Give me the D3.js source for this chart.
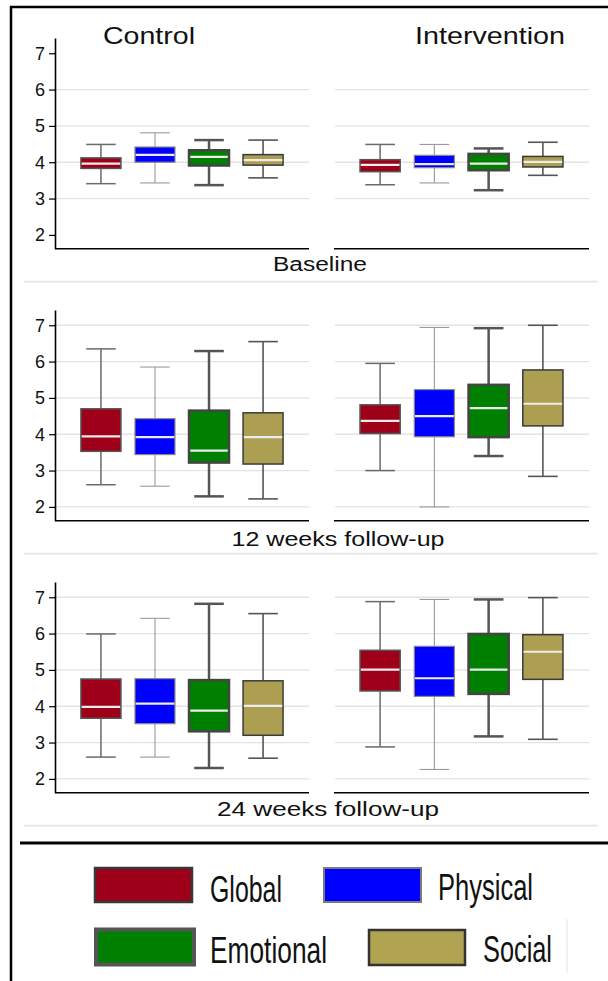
<!DOCTYPE html>
<html>
<head>
<meta charset="utf-8">
<script src="https://cdn.jsdelivr.net/npm/d3@7/dist/d3.min.js"></script>
<style>
  body { margin: 0; background: #fff; }
  text { font-family: "Liberation Sans", Arial, sans-serif; fill: #111; }
</style>
</head>
<body>
<svg id="chart" width="608" height="981"></svg>
<script>
// categories and groups
var categories = ["Global", "Physical", "Emotional", "Social"];
var groups = ["Control", "Intervention"];
var timepoints = ["Baseline", "12 weeks follow-up", "24 weeks follow-up"];
var yTicks = [2, 3, 4, 5, 6, 7];

// box values per category: [lower whisker, q1, median, q3, upper whisker]
var baselineControl = [
    [3.41, 3.83, 3.96, 4.12, 4.49],
    [3.43, 4.00, 4.20, 4.42, 4.81],
    [3.37, 3.91, 4.15, 4.33, 4.61],
    [3.57, 3.92, 4.06, 4.21, 4.61]
];
var baselineIntervention = [
    [3.38, 3.74, 3.93, 4.07, 4.49],
    [3.43, 3.85, 3.95, 4.19, 4.49],
    [3.23, 3.78, 3.96, 4.23, 4.38],
    [3.64, 3.87, 4.01, 4.16, 4.55]
];
var week12Control = [
    [2.61, 3.53, 3.94, 4.70, 6.35],
    [2.57, 3.44, 3.92, 4.43, 5.85],
    [2.29, 3.22, 3.55, 4.65, 6.29],
    [2.22, 3.18, 3.92, 4.59, 6.55]
];
var week12Intervention = [
    [3.00, 4.02, 4.37, 4.81, 5.95],
    [2.00, 3.93, 4.50, 5.23, 6.94],
    [3.40, 3.92, 4.72, 5.36, 6.92],
    [2.84, 4.23, 4.84, 5.77, 7.00]
];
var week24Control = [
    [2.60, 3.67, 3.98, 4.75, 5.99],
    [2.60, 3.52, 4.07, 4.76, 6.42],
    [2.30, 3.31, 3.88, 4.72, 6.82],
    [2.57, 3.20, 4.01, 4.70, 6.55]
];
var week24Intervention = [
    [2.88, 4.42, 5.01, 5.54, 6.88],
    [2.26, 4.27, 4.77, 5.65, 6.94],
    [3.17, 4.34, 5.01, 5.99, 6.94],
    [3.09, 4.74, 5.50, 5.97, 6.99]
];

var panelData = [
    [baselineControl, baselineIntervention],
    [week12Control, week12Intervention],
    [week24Control, week24Intervention]
];

// styles per category
var fills = ["#9e0019", "#0000ff", "#008000", "#ad9f52"];
var outline = ["#555", "#8a8a8a", "#444", "#3a3a3a"];
var outlineW = [1.5, 1.2, 2.5, 1.5];
var whiskerCol = ["#6a6a6a", "#9a9a9a", "#555", "#555"];
var whiskerW = [1.5, 1.1, 2.5, 1.6];

var svg = d3.select("#chart");

// outer frame
svg.append("line").attr("x1", 10).attr("x2", 608).attr("y1", 7).attr("y2", 7)
    .attr("stroke", "#000").attr("stroke-width", 2.5);
svg.append("line").attr("x1", 11).attr("x2", 11).attr("y1", 6).attr("y2", 981)
    .attr("stroke", "#000").attr("stroke-width", 2.5);

var rowStep = 272;
var panelRanges = [[55, 309], [334, 589]];
var labelBase = [271, 546, 816];

timepoints.forEach(function(tp, r) {
    var off = r * rowStep;
    var y = d3.scaleLinear().domain([1.62, 7.42]).range([248.7 + off, 38 + off]);
    var gridTicks = r === 0 ? [3, 4, 5, 6] : yTicks;

    groups.forEach(function(gName, g) {
        var x = d3.scaleBand()
            .domain(categories)
            .range(panelRanges[g])
            .paddingInner(0.26)
            .paddingOuter(0.48);
        var bw = x.bandwidth();
        var pg = svg.append("g");

        // gridlines
        pg.selectAll(".grid")
            .data(gridTicks)
            .enter().append("line")
            .attr("x1", panelRanges[g][0] + 1)
            .attr("x2", panelRanges[g][1])
            .attr("y1", d => y(d))
            .attr("y2", d => y(d))
            .attr("stroke", "#e3e3e3")
            .attr("stroke-width", 1.3);

        // x axis line
        pg.append("line")
            .attr("x1", panelRanges[g][0])
            .attr("x2", panelRanges[g][1])
            .attr("y1", y.range()[0])
            .attr("y2", y.range()[0])
            .attr("stroke", "#000")
            .attr("stroke-width", 1.6);

        // y axis only on the control panel
        if (g === 0) {
            var ax = pg.append("g")
                .attr("transform", "translate(" + panelRanges[0][0] + ",0)")
                .call(d3.axisLeft(y).tickValues(yTicks).tickFormat(d3.format("d"))
                    .tickSize(6).tickSizeOuter(0).tickPadding(4));
            ax.select(".domain").attr("stroke", "#000").attr("stroke-width", 1.6);
            ax.selectAll(".tick line").attr("stroke", "#000").attr("stroke-width", 1.2);
            ax.selectAll(".tick text")
                .attr("font-size", 18)
                .attr("font-family", "Liberation Sans, Arial, sans-serif")
                .attr("fill", "#1a1a1a");
        }

        var boxes = pg.selectAll(".box")
            .data(panelData[r][g])
            .enter().append("g")
            .attr("class", "box")
            .attr("transform", (d, i) => "translate(" + (x(categories[i]) + bw / 2) + ",0)");

        // whiskers
        boxes.append("line")
            .attr("y1", d => y(d[0])).attr("y2", d => y(d[1]))
            .attr("stroke", (d, i) => whiskerCol[i]).attr("stroke-width", (d, i) => whiskerW[i]);
        boxes.append("line")
            .attr("y1", d => y(d[3])).attr("y2", d => y(d[4]))
            .attr("stroke", (d, i) => whiskerCol[i]).attr("stroke-width", (d, i) => whiskerW[i]);
        // caps
        [0, 4].forEach(function(k) {
            boxes.append("line")
                .attr("x1", -bw * 0.37).attr("x2", bw * 0.37)
                .attr("y1", d => y(d[k])).attr("y2", d => y(d[k]))
                .attr("stroke", (d, i) => whiskerCol[i]).attr("stroke-width", (d, i) => whiskerW[i]);
        });

        boxes.append("rect")
            .attr("x", -bw / 2)
            .attr("width", bw)
            .attr("y", d => y(d[3]))
            .attr("height", d => y(d[1]) - y(d[3]))
            .attr("fill", (d, i) => fills[i])
            .attr("stroke", (d, i) => outline[i])
            .attr("stroke-width", (d, i) => outlineW[i]);

        // median
        boxes.append("line")
            .attr("x1", (d, i) => -bw / 2 + outlineW[i] / 2)
            .attr("x2", (d, i) => bw / 2 - outlineW[i] / 2)
            .attr("y1", d => y(d[2])).attr("y2", d => y(d[2]))
            .attr("stroke", "#ececec").attr("stroke-width", 2.2);
    });

    // timepoint label
    var lw = [94, 213, 222][r];
    var lx = [320, 338, 328][r];
    svg.append("text")
        .attr("x", lx - lw / 2)
        .attr("y", labelBase[r])
        .attr("font-size", 20)
        .attr("textLength", lw)
        .attr("lengthAdjust", "spacingAndGlyphs")
        .text(tp);

    // separator
    svg.append("line")
        .attr("x1", 24).attr("x2", 598)
        .attr("y1", 281.7 + off).attr("y2", 281.7 + off)
        .attr("stroke", "#e6e6e6").attr("stroke-width", 1.8);
});

// group titles
var titleX = [[103, 92], [415, 150]];
groups.forEach(function(gName, g) {
    svg.append("text")
        .attr("x", titleX[g][0])
        .attr("y", 44)
        .attr("font-size", 24)
        .attr("textLength", titleX[g][1])
        .attr("lengthAdjust", "spacingAndGlyphs")
        .text(gName);
});

// legend
svg.append("line").attr("x1", 20).attr("x2", 608).attr("y1", 843).attr("y2", 843)
    .attr("stroke", "#000").attr("stroke-width", 3);
svg.append("line").attr("x1", 567).attr("x2", 567).attr("y1", 919).attr("y2", 973)
    .attr("stroke", "#e2e2e2").attr("stroke-width", 1);

var legendPos = [
    { x: 95, y: 868, w: 97, h: 34, sw: 2.5, sc: "#383838", tx: 210, ty: 902, tw: 72 },
    { x: 324, y: 868, w: 97, h: 34, sw: 2, sc: "#7a7a7a", tx: 438, ty: 900, tw: 95 },
    { x: 96, y: 929.5, w: 98, h: 35, sw: 4, sc: "#555", tx: 210, ty: 963, tw: 117 },
    { x: 369, y: 930, w: 96, h: 35, sw: 2.5, sc: "#333", tx: 483, ty: 962, tw: 69 }
];
var legendFills = ["#9e0019", "#0000ff", "#008000", "#b0a352"];

var lg = svg.append("g").selectAll("g")
    .data(categories)
    .enter().append("g");

lg.append("rect")
    .attr("x", (d, i) => legendPos[i].x)
    .attr("y", (d, i) => legendPos[i].y)
    .attr("width", (d, i) => legendPos[i].w)
    .attr("height", (d, i) => legendPos[i].h)
    .attr("fill", (d, i) => legendFills[i])
    .attr("stroke", (d, i) => legendPos[i].sc)
    .attr("stroke-width", (d, i) => legendPos[i].sw);

lg.append("text")
    .attr("x", (d, i) => legendPos[i].tx)
    .attr("y", (d, i) => legendPos[i].ty)
    .attr("font-size", 36)
    .attr("textLength", (d, i) => legendPos[i].tw)
    .attr("lengthAdjust", "spacingAndGlyphs")
    .text(d => d);
</script>
</body>
</html>
